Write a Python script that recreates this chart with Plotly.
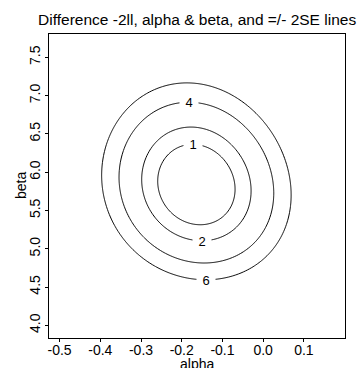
import numpy as np
import plotly.graph_objects as go

# Parameter estimates, standard errors and correlation of the fit
alpha_hat = -0.164
beta_hat = 5.83
se_alpha = 0.095
se_beta = 0.525
corr_ab = -0.10
beta_skew = 0.016   # mild asymmetry of the beta profile

# Contour levels of the -2ll difference and where each label sits
levels = [1, 2, 4, 6]
label_side = ["top", "bottom", "top", "bottom"]

# Axis ticks
x_ticks = [-0.5, -0.4, -0.3, -0.2, -0.1, 0.0, 0.1]
x_tick_labels = ["-0.5", "-0.4", "-0.3", "-0.2", "-0.1", "0.0", "0.1"]
y_ticks = [4.0, 4.5, 5.0, 5.5, 6.0, 6.5, 7.0, 7.5]
y_tick_labels = ["4.0", "4.5", "5.0", "5.5", "6.0", "6.5", "7.0", "7.5"]

x_range = [-0.526, 0.201]
y_range = [3.834, 7.805]

# -2ll difference surface on a grid
a = np.linspace(x_range[0], x_range[1], 300)
b = np.linspace(y_range[0], y_range[1], 300)
A, B = np.meshgrid(a, b)
v = (A - alpha_hat) / se_alpha
w = (B - beta_hat) / se_beta
u = (-1 + np.sqrt(1 + 4 * beta_skew * w)) / (2 * beta_skew)
Z = (v ** 2 - 2 * corr_ab * u * v + u ** 2) / (1 - corr_ab ** 2)

font = "Liberation Sans, Arial, Helvetica, sans-serif"

fig = go.Figure()
for lev in levels:
    fig.add_trace(go.Contour(
        x=a, y=b, z=Z,
        contours=dict(start=lev, end=lev, size=1, coloring="none"),
        line=dict(color="black", width=1),
        showscale=False, hoverinfo="skip",
    ))

# Contour labels at the extreme point of each curve
for lev, side in zip(levels, label_side):
    uu = np.sqrt(lev) * (1 if side == "top" else -1)
    vv = corr_ab * uu
    lx = alpha_hat + se_alpha * vv
    ly = beta_hat + se_beta * (uu + beta_skew * uu ** 2)
    fig.add_annotation(
        x=lx, y=ly, xref="x", yref="y", text=str(lev), showarrow=False,
        font=dict(family=font, size=13, color="black"),
        bgcolor="white", width=18, height=10, borderpad=0,
    )

# Axis titles
fig.add_annotation(
    text="alpha", xref="paper", yref="paper", x=0.5, y=-16 / 304,
    xanchor="center", yanchor="top", showarrow=False,
    font=dict(family=font, size=14, color="black"),
)
fig.add_annotation(
    text="beta", xref="paper", yref="paper", x=-28 / 296, y=0.5,
    xanchor="center", yanchor="middle", textangle=-90, showarrow=False,
    font=dict(family=font, size=14, color="black"),
)

fig.update_layout(
    width=363, height=368,
    margin=dict(l=49, r=18, t=34, b=30),
    paper_bgcolor="white", plot_bgcolor="white",
    showlegend=False,
    font=dict(family=font, size=14, color="black"),
    title=dict(
        text="Difference -2ll, alpha & beta, and =/- 2SE lines",
        x=0.543, xanchor="center", y=1 - 19.5 / 368, yanchor="middle",
        font=dict(family=font, size=15.5, color="black"),
    ),
)
fig.update_xaxes(
    range=x_range, tickvals=x_ticks, ticktext=x_tick_labels,
    showline=True, mirror=True, linecolor="black", linewidth=1,
    ticks="outside", ticklen=3, tickcolor="black", tickwidth=1,
    showgrid=False, zeroline=False, automargin=False,
    ticklabelstandoff=-4,
    tickfont=dict(size=14),
)
fig.update_yaxes(
    range=y_range, tickvals=y_ticks, ticktext=y_tick_labels,
    showline=True, mirror=True, linecolor="black", linewidth=1,
    ticks="outside", ticklen=3, tickcolor="black", tickwidth=1,
    showgrid=False, zeroline=False, tickangle=-90, automargin=False,
    ticklabelstandoff=-1,
    tickfont=dict(size=14),
)

fig.write_html("out.html")
